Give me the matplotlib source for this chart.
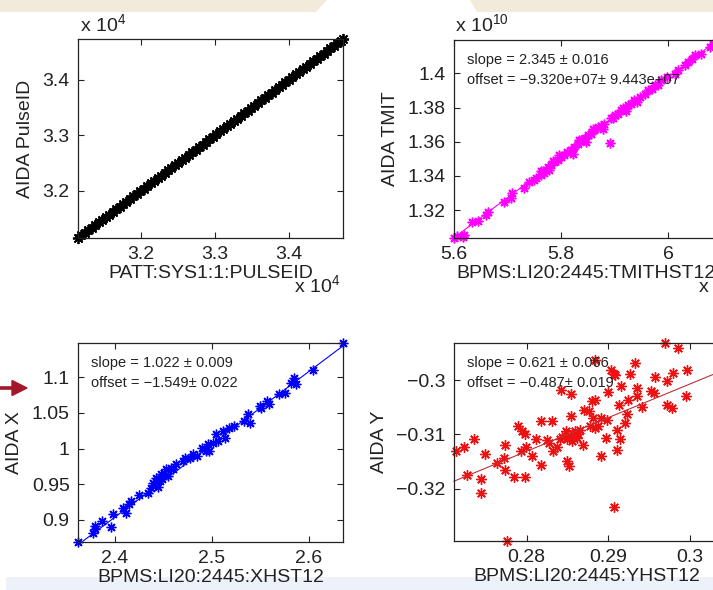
import numpy as np
import matplotlib.pyplot as plt
from matplotlib.patches import Polygon, FancyArrow
from matplotlib.transforms import IdentityTransform
from matplotlib.ticker import FuncFormatter

plt.rcParams['font.family'] = ['Liberation Sans', 'DejaVu Sans']
plt.rcParams['mathtext.fontset'] = 'custom'
plt.rcParams['mathtext.rm'] = 'Liberation Sans'
plt.rcParams['mathtext.default'] = 'regular'

# --- pulse id: PATT vs AIDA (identical ids) ---
pulse_ids = [31150, 31196, 31243, 31291, 31338, 31382, 31431, 31477, 31525, 31570,
             31618, 31664, 31712, 31757, 31805, 31851, 31898, 31944, 31991, 32038,
             32085, 32132, 32178, 32226, 32271, 32319, 32365, 32412, 32459, 32505,
             32553, 32598, 32646, 32692, 32739, 32786, 32832, 32879, 32926, 32972,
             33019, 33066, 33113, 33159, 33206, 33253, 33299, 33346, 33393, 33440,
             33486, 33533, 33580, 33626, 33673, 33720, 33767, 33813, 33860, 33907,
             33953, 34000, 34047, 34094, 34140, 34187, 34234, 34280, 34327, 34374,
             34421, 34467, 34514, 34561, 34607, 34654, 34701, 34730]

# --- TMIT: BPM (x 1e9) vs AIDA (x 1e10) ---
tmit_bpm = [5.600, 5.606, 5.616, 5.619, 5.634, 5.644, 5.659, 5.663, 5.694, 5.706,
            5.709, 5.731, 5.741, 5.750, 5.753, 5.762, 5.762, 5.766, 5.769, 5.775,
            5.778, 5.781, 5.784, 5.787, 5.794, 5.797, 5.800, 5.806, 5.812, 5.819,
            5.822, 5.825, 5.831, 5.834, 5.837, 5.844, 5.847, 5.850, 5.856, 5.859,
            5.862, 5.869, 5.875, 5.878, 5.881, 5.891, 5.894, 5.897, 5.900, 5.906,
            5.912, 5.916, 5.919, 5.922, 5.925, 5.931, 5.937, 5.941, 5.947, 5.956,
            5.962, 5.969, 5.975, 5.981, 5.987, 5.997, 6.012, 6.019, 6.031, 6.037,
            6.044, 6.050, 6.062, 6.078, 6.084, 6.091, 6.095]
tmit_aida = [1.3038, 1.3046, 1.3040, 1.3055, 1.3133, 1.3137, 1.3172, 1.3187, 1.3250, 1.3273,
             1.3298, 1.3327, 1.3366, 1.3376, 1.3386, 1.3405, 1.3428, 1.3428, 1.3415, 1.3454,
             1.3434, 1.3463, 1.3487, 1.3483, 1.3493, 1.3522, 1.3512, 1.3522, 1.3541, 1.3551,
             1.3531, 1.3570, 1.3584, 1.3609, 1.3609, 1.3619, 1.3600, 1.3638, 1.3648, 1.3677,
             1.3667, 1.3687, 1.3693, 1.3677, 1.3706, 1.3590, 1.3740, 1.3736, 1.3755, 1.3765,
             1.3784, 1.3795, 1.3794, 1.3778, 1.3813, 1.3823, 1.3842, 1.3833, 1.3862, 1.3881,
             1.3901, 1.3910, 1.3930, 1.3930, 1.3959, 1.3978, 1.3998, 1.4017, 1.4047, 1.4066,
             1.4085, 1.4105, 1.4115, 1.4153, 1.4173, 1.4192, 1.4195]
tmit_fit = (2.345, 0.016, -9.320e7, 9.443e7)

# --- X position: BPM vs AIDA ---
x_bpm = [2.362, 2.377, 2.379, 2.380, 2.387, 2.396, 2.398, 2.408, 2.411, 2.415,
         2.417, 2.425, 2.434, 2.437, 2.439, 2.442, 2.442, 2.444, 2.446, 2.447,
         2.449, 2.451, 2.453, 2.455, 2.458, 2.460, 2.463, 2.470, 2.472, 2.477,
         2.480, 2.485, 2.490, 2.494, 2.496, 2.497, 2.501, 2.504, 2.506, 2.511,
         2.513, 2.518, 2.523, 2.533, 2.537, 2.539, 2.549, 2.551, 2.557, 2.559,
         2.569, 2.575, 2.581, 2.585, 2.587, 2.604, 2.635]
x_aida = [0.869, 0.882, 0.887, 0.892, 0.898, 0.890, 0.908, 0.917, 0.909, 0.922,
          0.927, 0.935, 0.937, 0.945, 0.952, 0.950, 0.959, 0.946, 0.955, 0.964,
          0.958, 0.966, 0.971, 0.962, 0.973, 0.972, 0.978, 0.983, 0.987, 0.987,
          0.992, 0.990, 1.001, 0.997, 1.006, 0.997, 1.008, 1.020, 1.011, 1.025,
          1.015, 1.029, 1.032, 1.039, 1.048, 1.036, 1.060, 1.057, 1.067, 1.062,
          1.076, 1.078, 1.092, 1.099, 1.090, 1.110, 1.148]
x_fit = (1.022, 0.009, -1.549, 0.022)

# --- Y position: BPM vs AIDA ---
y_bpm = [0.2713, 0.2723, 0.2736, 0.2727, 0.2749, 0.2744, 0.2744, 0.2764, 0.2772, 0.2774,
         0.2774, 0.2784, 0.2798, 0.2789, 0.2795, 0.2798, 0.2793, 0.2799, 0.2807, 0.2812,
         0.2818, 0.2831, 0.2818, 0.2825, 0.2827, 0.2833, 0.2837, 0.2841, 0.2844, 0.2842,
         0.2855, 0.2850, 0.2852, 0.2854, 0.2856, 0.2858, 0.2860, 0.2862, 0.2856, 0.2869,
         0.2870, 0.2876, 0.2880, 0.2884, 0.2884, 0.2888, 0.2891, 0.2891, 0.2898, 0.2900,
         0.2903, 0.2907, 0.2909, 0.2907, 0.2911, 0.2914, 0.2911, 0.2913, 0.2916, 0.2921,
         0.2923, 0.2924, 0.2927, 0.2933, 0.2935, 0.2935, 0.2942, 0.2952, 0.2956, 0.2958,
         0.2970, 0.2986, 0.2972, 0.2972, 0.2978, 0.2980, 0.2997, 0.2996, 0.2776, 0.2866,
         0.2878, 0.2884, 0.2882, 0.2899, 0.2848, 0.2853, 0.2863, 0.2850]
y_aida = [-0.3131, -0.3124, -0.3108, -0.3175, -0.3137, -0.3183, -0.3208, -0.3152, -0.3143, -0.3120,
          -0.3165, -0.3179, -0.3179, -0.3085, -0.3094, -0.3100, -0.3131, -0.3124, -0.3139, -0.3109,
          -0.3076, -0.3076, -0.3156, -0.3111, -0.3116, -0.3131, -0.3124, -0.3109, -0.3105, -0.3017,
          -0.3025, -0.3149, -0.3159, -0.3066, -0.3097, -0.3103, -0.3094, -0.3106, -0.3113, -0.3119,
          -0.3054, -0.3057, -0.3039, -0.3036, -0.2962, -0.3085, -0.3140, -0.3069, -0.3106, -0.3021,
          -0.2980, -0.2988, -0.2990, -0.3234, -0.3128, -0.3109, -0.3091, -0.3045, -0.3011, -0.3079,
          -0.3062, -0.3036, -0.2988, -0.2968, -0.3014, -0.3029, -0.3050, -0.3020, -0.3023, -0.2993,
          -0.2931, -0.2940, -0.3046, -0.3002, -0.3051, -0.2986, -0.2980, -0.3029, -0.3297, -0.3091,
          -0.3085, -0.3088, -0.3069, -0.3073, -0.3093, -0.3106, -0.3099, -0.3109]
y_fit = (0.621, 0.066, -0.487, 0.019)

W, H = 713, 590
fig = plt.figure(figsize=(W / 100, H / 100), dpi=100)
fig.patch.set_facecolor('white')


def box(l, t, r, b):
    return [l / W, 1 - b / H, (r - l) / W, (b - t) / H]


def fxy(x, y):
    return x / W, 1 - y / H


# slide decoration: beige header band, pale footer band, red pointer
for pts, col in [([(0, 0), (327, 0), (316, 12), (0, 12)], '#f2eadb'),
                 ([(470, 0), (713, 0), (713, 12), (477, 12)], '#f2eadb'),
                 ([(6, 577), (713, 577), (713, 590), (6, 590)], '#edf1f9')]:
    fig.patches.append(Polygon([fxy(*p) for p in pts], closed=True,
                               transform=fig.transFigure, facecolor=col,
                               edgecolor='none', zorder=-5))
fig.patches.append(FancyArrow(0, H - 388, 27, 0, width=2.2, head_width=15, head_length=15,
                              length_includes_head=True, transform=IdentityTransform(),
                              color='#a3172b', zorder=-5))

AST = (8, 2, 0)
INK = '#222222'


def fmt(scale=1.0):
    return FuncFormatter(lambda v, p: f'{v / scale:g}'.replace('-', '\u2212'))


def style(ax, xticks, yticks, xlabel, ylabel, scale=1.0):
    xlim, ylim = ax.get_xlim(), ax.get_ylim()
    ax.set_xticks(xticks)
    ax.set_yticks(yticks)
    ax.set_xlim(xlim)
    ax.set_ylim(ylim)
    ax.xaxis.set_major_formatter(fmt(scale))
    ax.yaxis.set_major_formatter(fmt(scale))
    ax.tick_params(direction='in', top=True, right=True, length=4, width=0.8,
                   labelsize=14, color=INK, labelcolor=INK, pad=6)
    for s in ax.spines.values():
        s.set_linewidth(0.9)
        s.set_color(INK)
    ax.set_xlabel(xlabel, fontsize=14, color=INK, labelpad=1)
    ax.set_ylabel(ylabel, fontsize=14, color=INK, labelpad=6)


def fit_text(ax, fit, ofmt):
    slope, ds, off, doff = fit
    ax.text(0.05, 0.90, f'slope = {slope:.3f} \u00b1 {ds:.3f}', transform=ax.transAxes,
            fontsize=10.5, color=INK, va='center', ha='left')
    ax.text(0.05, 0.80, ('offset = ' + ofmt(off) + '\u00b1 ' + ofmt(doff)).replace('-', '\u2212'),
            transform=ax.transAxes, fontsize=10.5, color=INK, va='center', ha='left')


# pulse id
ax1 = fig.add_axes(box(78, 39, 343, 238))
ax1.plot(pulse_ids, pulse_ids, ls='none', marker=AST, ms=8, mew=1.3, color='black')
ax1.set_xlim(31150, 34730)
ax1.set_ylim(31150, 34730)
style(ax1, [32000, 33000, 34000], [32000, 33000, 34000],
      'PATT:SYS1:1:PULSEID', 'AIDA PulseID', scale=1e4)
fig.text(*fxy(80, 31), r'x $10^{4}$', fontsize=14, color=INK, va='baseline')
fig.text(*fxy(294, 292), r'x $10^{4}$', fontsize=14, color=INK, va='baseline')

# TMIT
ax2 = fig.add_axes(box(454, 40, 719, 238))
ax2.plot(tmit_bpm, tmit_aida, ls='none', marker=AST, ms=7, mew=1.1, color='#ff00ff')
ax2.set_xlim(5.600, 6.095)
ax2.set_ylim(1.3037, 1.4195)
xl = np.array(ax2.get_xlim())
ax2.plot(xl, (tmit_fit[0] * xl * 1e9 + tmit_fit[2]) / 1e10, color='#ff00ff', lw=0.8)
style(ax2, [5.6, 5.8, 6.0], [1.32, 1.34, 1.36, 1.38, 1.40],
      'BPMS:LI20:2445:TMITHST12', 'AIDA TMIT')
fit_text(ax2, tmit_fit, lambda v: f'{v:.3e}')
fig.text(*fxy(455, 31), r'x $10^{10}$', fontsize=14, color=INK, va='baseline')
fig.text(*fxy(698, 292), r'x $10^{9}$', fontsize=14, color=INK, va='baseline')

# X
ax3 = fig.add_axes(box(78, 343, 343, 542))
ax3.plot(x_bpm, x_aida, ls='none', marker=AST, ms=7, mew=1, color='#0000ff')
ax3.set_xlim(2.362, 2.635)
ax3.set_ylim(0.869, 1.148)
xl = np.array(ax3.get_xlim())
ax3.plot(xl, x_fit[0] * xl + x_fit[2], color='#0000ff', lw=0.8)
style(ax3, [2.4, 2.5, 2.6], [0.9, 0.95, 1.0, 1.05, 1.1],
      'BPMS:LI20:2445:XHST12', 'AIDA X')
fit_text(ax3, x_fit, lambda v: f'{v:.3f}')

# Y
ax4 = fig.add_axes(box(454, 343, 719, 541))
ax4.plot(y_bpm, y_aida, ls='none', marker=AST, ms=7.5, mew=1, color='#ee1111')
ax4.set_xlim(0.2711, 0.3036)
ax4.set_ylim(-0.3297, -0.2931)
xl = np.array(ax4.get_xlim())
ax4.plot(xl, y_fit[0] * xl + y_fit[2], color='#c0303a', lw=0.8)
style(ax4, [0.28, 0.29, 0.30], [-0.32, -0.31, -0.30],
      'BPMS:LI20:2445:YHST12', 'AIDA Y')
fit_text(ax4, y_fit, lambda v: f'{v:.3f}')

for ax in (ax1, ax2, ax3, ax4):
    for ln in ax.lines:
        ln.set_clip_on(False)

fig.savefig('out.png', dpi=100)
